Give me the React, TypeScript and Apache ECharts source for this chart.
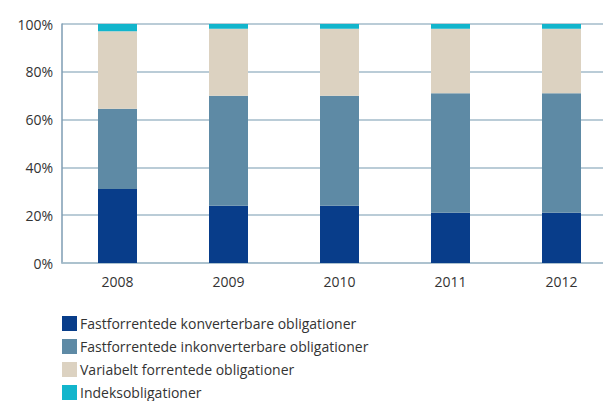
import React, { useEffect, useRef } from "react";
import * as echarts from "echarts";

const years = ["2008", "2009", "2010", "2011", "2012"];
const fastKonv = [31, 24, 24, 21, 21];
const fastInkonv = [33.5, 46, 46, 50, 50];
const variabelt = [32.5, 28, 28, 27, 27];
const indeks = [3, 2, 2, 2, 2];
const yTicks = [0, 20, 40, 60, 80, 100];

const seriesNames = [
  "Fastforrentede konverterbare obligationer",
  "Fastforrentede inkonverterbare obligationer",
  "Variabelt forrentede obligationer",
  "Indeksobligationer",
];
const colors = ["#083D8A", "#5E8AA5", "#DCD2C1", "#12B5CC"];

export default function App() {
  const ref = useRef<HTMLDivElement>(null);
  useEffect(() => {
    if (!ref.current) return;
    const chart = echarts.init(ref.current, undefined, { renderer: "svg" });
    const font = "'Open Sans', 'Noto Sans', sans-serif";
    const data = [fastKonv, fastInkonv, variabelt, indeks];
    chart.setOption({
      animation: false,
      textStyle: { fontFamily: font },
      grid: { left: 62, top: 24, height: 239, width: 555, containLabel: false, outerBoundsMode: "none" },
      legend: {
        orient: "vertical",
        left: 57,
        top: 311,
        height: 150,
        itemWidth: 15,
        itemHeight: 15,
        itemGap: 8,
        icon: "rect",
        selectedMode: false,
        textStyle: { fontSize: 14, color: "#333", fontFamily: font, padding: [0, 0, 0, -2] },
        data: seriesNames,
      },
      xAxis: {
        type: "category",
        data: years,
        axisLine: { show: true, lineStyle: { color: "#A8BFCC", width: 1.5 } },
        axisTick: { show: false },
        axisLabel: { color: "#333", fontSize: 14, margin: 11, fontFamily: font },
      },
      yAxis: {
        type: "value",
        min: yTicks[0],
        max: yTicks[yTicks.length - 1],
        interval: 20,
        axisLine: { show: true, lineStyle: { color: "#7E9DB3", width: 1.5 } },
        axisTick: { show: false },
        axisLabel: {
          color: "#333",
          fontSize: 14,
          margin: 9,
          fontFamily: font,
          formatter: (v: number) => v + "%",
        },
        splitLine: { show: true, lineStyle: { color: "#A3BBCA", width: 1.5 } },
      },
      series: seriesNames.map((name, i) => ({
        name,
        type: "bar",
        stack: "total",
        barWidth: 39,
        data: data[i],
        itemStyle: { color: colors[i] },
      })),
    });
    return () => chart.dispose();
  }, []);
  return <div ref={ref} style={{ width: 603, height: 401, position: "absolute", left: 0, top: 0 }} />;
}
